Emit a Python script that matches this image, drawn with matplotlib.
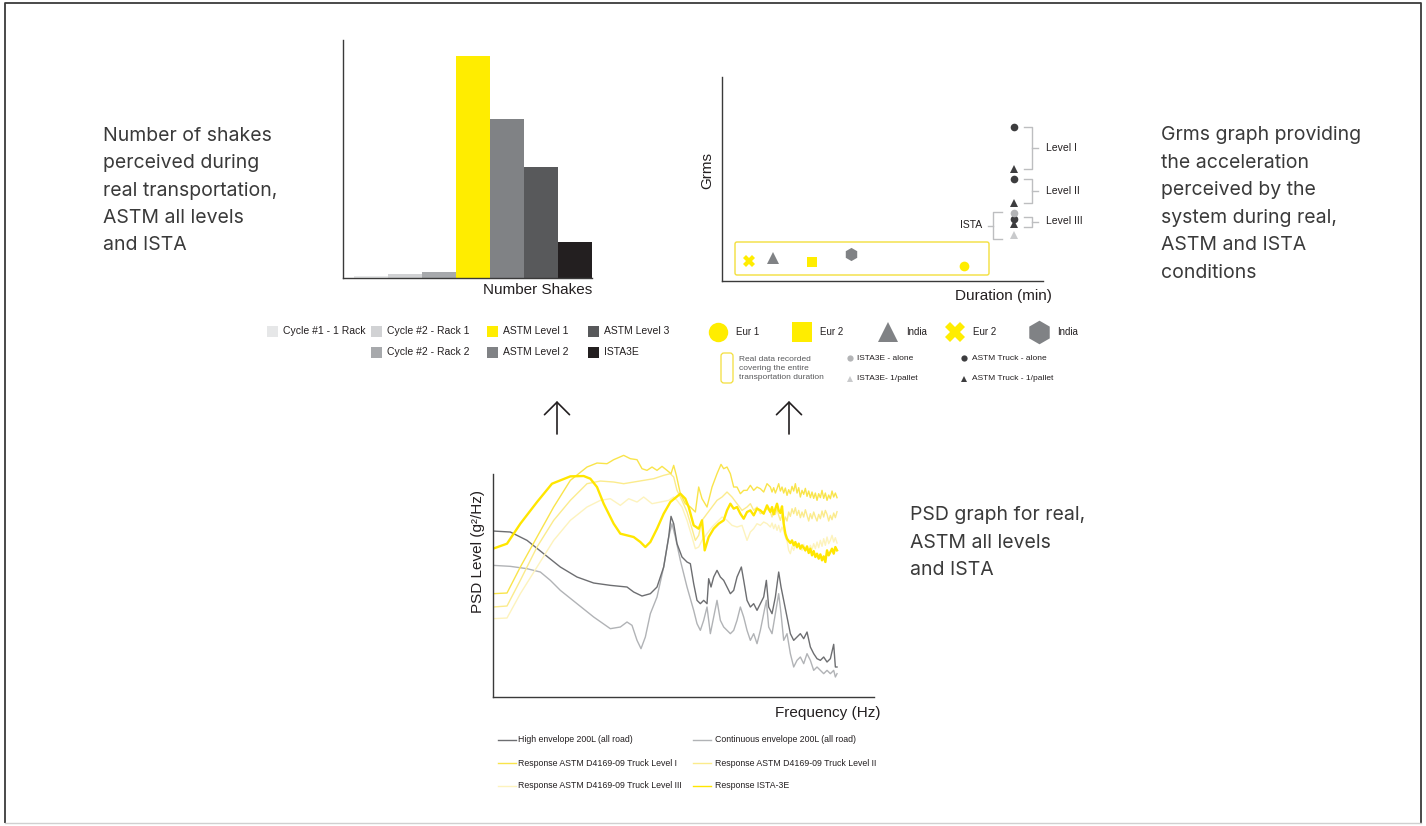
import numpy as np
import matplotlib
matplotlib.use("Agg")
import matplotlib.pyplot as plt
from matplotlib.patches import Rectangle, FancyBboxPatch

# ---------------- data ----------------
# Number of shakes per test condition (relative counts)
shake_labels = ["Cycle #1 - 1 Rack", "Cycle #2 - Rack 1", "Cycle #2 - Rack 2",
                "ASTM Level 1", "ASTM Level 2", "ASTM Level 3", "ISTA3E"]
shake_counts = [0.9, 1.8, 2.8, 100, 71.5, 50, 16]
shake_colors = ["#e6e7e8", "#d1d2d4", "#a7a9ac", "#ffed00", "#808285", "#58595b", "#231f20"]

# Grms vs duration: real transport recordings
real_labels = ["Eur 1", "Eur 2", "India", "Eur 2", "India"]
real_duration = [242, 90, 51, 27, 129]
real_grms = [15, 19, 23, 20, 27]
real_markers = ["o", "s", "^", "X", "h"]
real_colors = ["#ffed00", "#ffed00", "#808285", "#ffed00", "#808285"]

# Grms of lab test profiles (all run at the same duration)
test_duration = 292
astm_levels = ["Level I", "Level II", "Level III"]
astm_alone = [154, 102, 62]
astm_pallet = [112, 78, 57]
ista_alone = 68
ista_pallet = 46

# PSD curves (log-frequency index, PSD level in relative units)
hi_x = [0, 52, 102, 152, 202, 252, 302, 352, 402, 422, 447, 472, 492, 512, 527, 534, 542, 552, 567, 582,
        592, 602, 612, 622, 632, 642, 647, 654, 662, 672, 682, 692, 702, 712, 722, 732, 745, 752, 762, 772,
        782, 792, 802, 812, 820, 827, 837, 847, 857, 864, 872, 882, 892, 902, 912, 922, 932, 942, 952, 962,
        972, 982, 992, 1002, 1012, 1022, 1027, 1032]
hi_y = [498, 495, 470, 430, 390, 360, 342, 335, 330, 315, 303, 310, 330, 390, 480, 542, 520, 460, 420, 405,
        400, 340, 290, 280, 290, 280, 355, 330, 360, 380, 360, 350, 330, 310, 320, 360, 390, 350, 290, 270,
        280, 260, 280, 300, 350, 270, 250, 300, 375, 330, 290, 240, 190, 170, 180, 190, 175, 195, 150, 130,
        115, 110, 120, 105, 115, 158, 90, 90]

cont_x = [0, 52, 102, 142, 172, 202, 252, 302, 352, 382, 402, 417, 432, 444, 457, 472, 492, 512, 527, 537,
          547, 562, 582, 602, 612, 622, 632, 642, 652, 662, 672, 682, 692, 702, 712, 722, 732, 742, 752, 762,
          772, 782, 792, 802, 812, 820, 827, 837, 847, 857, 864, 872, 882, 892, 902, 912, 922, 932, 942, 952,
          962, 972, 982, 992, 1002, 1012, 1022, 1027, 1032]
cont_y = [395, 392, 385, 375, 350, 320, 280, 240, 205, 210, 225, 215, 170, 145, 180, 250, 300, 390, 480, 520,
          480, 410, 330, 260, 220, 200, 230, 270, 190, 240, 290, 230, 210, 200, 190, 200, 230, 270, 240, 200,
          170, 190, 160, 200, 250, 290, 210, 190, 250, 310, 250, 170, 190, 130, 90, 110, 120, 100, 130, 110,
          80, 90, 80, 70, 80, 70, 80, 60, 70]

# shared frequency grid of the noisy high-frequency tail of the response curves
tail_x = [832, 837, 842, 847, 852, 857, 862, 867, 872, 877, 882, 887, 892, 897, 902, 907, 912, 917, 922, 927,
          932, 937, 942, 947, 952, 957, 962, 967, 972, 977, 982, 987, 992, 997, 1002, 1007, 1012, 1017, 1022,
          1027, 1032]

ista_x = [0, 42, 82, 132, 177, 232, 272, 292, 312, 332, 362, 382, 402, 422, 442, 457, 472, 492, 512, 532,
          562, 577, 587, 602, 617, 627, 635, 647, 662, 677, 692, 702, 712, 722, 732, 742, 752, 762, 772, 782,
          792, 802, 812, 822] + tail_x
ista_y = [445, 460, 520, 585, 640, 662, 663, 655, 630, 580, 520, 490, 485, 480, 465, 450, 465, 505, 550, 585,
          610, 595, 570, 515, 505, 530, 440, 480, 505, 520, 530, 560, 580, 565, 570, 550, 535, 555, 560, 545,
          565, 560, 550, 575,
          555, 570, 548, 565, 580, 560, 552, 572, 520, 490, 475, 468, 462, 470, 455, 465, 450, 460, 445, 455,
          448, 440, 452, 432, 445, 425, 438, 420, 430, 415, 428, 410, 422, 405, 440, 425, 435, 445, 430, 450,
          440]

lvl1_x = [0, 42, 82, 132, 182, 232, 282, 312, 342, 362, 392, 412, 432, 447, 462, 477, 492, 507, 522, 534,
          542, 550, 562, 577, 592, 607, 617, 627, 642, 657, 672, 684, 692, 702, 712, 722, 732, 742, 752, 762,
          772, 782, 792, 802, 812, 822] + tail_x
lvl1_y = [310, 312, 390, 480, 570, 650, 690, 702, 700, 712, 725, 715, 712, 685, 680, 690, 680, 692, 680, 670,
          695, 665, 610, 580, 570, 555, 630, 595, 570, 630, 670, 698, 685, 690, 670, 630, 630, 610, 620, 620,
          635, 620, 630, 625, 615, 640,
          630, 615, 628, 612, 625, 640, 618, 630, 612, 627, 605, 622, 610, 632, 618, 640, 612, 628, 600, 620,
          608, 626, 602, 618, 598, 615, 596, 612, 590, 610, 598, 620, 596, 612, 590, 606, 595, 618, 600, 612,
          598]

lvl2_x = [0, 42, 82, 132, 182, 232, 282, 322, 362, 392, 422, 452, 482, 512, 532, 542, 552, 567, 582, 597,
          607, 617, 627, 642, 657, 672, 687, 702, 717, 732, 747, 762, 772, 782, 792, 802, 812, 822] + tail_x
lvl2_y = [270, 273, 350, 450, 530, 590, 640, 648, 645, 640, 645, 650, 655, 665, 670, 660, 620, 590, 555, 505,
          470, 485, 530, 550, 570, 590, 600, 615, 600, 580, 560, 570, 580, 560, 570, 550, 555, 565,
          555, 540, 560, 548, 565, 545, 530, 548, 522, 540, 528, 555, 542, 565, 550, 568, 545, 560, 538, 555,
          540, 562, 545, 528, 550, 535, 555, 540, 528, 548, 535, 558, 540, 560, 548, 528, 545, 532, 552, 538,
          556]

lvl3_x = [0, 42, 82, 132, 182, 232, 282, 322, 352, 382, 407, 432, 452, 477, 502, 527, 542, 552, 567, 582,
          597, 607, 617, 627, 642, 657, 672, 687, 702, 717, 732, 747, 762, 772, 782, 792, 802, 812, 822] + tail_x
lvl3_y = [235, 237, 310, 390, 470, 530, 570, 590, 595, 575, 595, 585, 600, 580, 585, 590, 600, 590, 570, 530,
          480, 445, 450, 470, 490, 510, 525, 540, 530, 515, 510, 515, 470, 495, 505, 520, 515, 525, 520,
          510, 522, 505, 518, 500, 515, 495, 510, 498, 480, 468, 440, 430, 452, 440, 458, 445, 462, 448, 440,
          458, 436, 450, 438, 455, 442, 460, 445, 465, 448, 470, 452, 475, 455, 480, 460, 470, 485, 465, 478,
          462]

psd_labels = ["High envelope 200L (all road)", "Continuous envelope 200L (all road)",
              "Response ASTM D4169-09 Truck Level I", "Response ASTM D4169-09 Truck Level II",
              "Response ASTM D4169-09 Truck Level III", "Response ISTA-3E"]
psd_colors = ["#6d6e71", "#b1b3b6", "#f9e44a", "#fbeb8c", "#fdf3bd", "#ffe600"]

# ---------------- figure ----------------
W, H, DPI = 1426, 826, 100
plt.rcParams["font.family"] = ["Liberation Sans", "DejaVu Sans"]
INK = "#231f20"
BODY = "#3a3a3a"

fig = plt.figure(figsize=(W / DPI, H / DPI), dpi=DPI)
fig.patch.set_facecolor("white")


def px_axes(left, top, right, bottom):
    return fig.add_axes([left / W, 1 - bottom / H, (right - left) / W, (bottom - top) / H])


def clean(ax):
    for s in ("top", "right"):
        ax.spines[s].set_visible(False)
    for s in ("left", "bottom"):
        ax.spines[s].set_color("#3a3a3a")
        ax.spines[s].set_linewidth(1.0)
    ax.set_xticks([])
    ax.set_yticks([])
    ax.patch.set_alpha(0)


# page layer for text blocks, legends, arrows and frame (pixel coordinates)
page = fig.add_axes([0, 0, 1, 1])
page.set_xlim(0, W)
page.set_ylim(H, 0)
page.axis("off")

# frame
page.plot([5, 5, 1421, 1421], [823, 3, 3, 823], color="#3a3a3a", lw=1.3, solid_capstyle="butt")
page.plot([5, 1421], [823, 823], color="#d0d0d0", lw=1.0)

# ---- bar chart ----
axb = px_axes(343, 40, 592, 278)
clean(axb)
xpos = np.arange(len(shake_counts))
axb.bar(xpos, shake_counts, width=1.0, color=shake_colors, linewidth=0)
axb.set_xlim(-0.824, 6.5)
axb.set_ylim(0, 107.2)
axb.set_xlabel("Number Shakes", fontsize=11, color=INK, loc="right")
axb.xaxis.set_label_coords(1.0, -0.02)

# bar legend
leg_cols = [267, 371, 487, 588]
leg_rows = [331, 352]
leg_slots = [(0, 0), (1, 0), (1, 1), (2, 0), (2, 1), (3, 0), (3, 1)]
for lab, col, (c, r) in zip(shake_labels, shake_colors, leg_slots):
    x0, yc = leg_cols[c], leg_rows[r]
    page.add_patch(Rectangle((x0, yc - 5.5), 11, 11, facecolor=col, edgecolor="none"))
    page.text(x0 + 16, yc, lab, fontsize=7.5, color=INK, va="center", ha="left")

# ---- Grms scatter ----
axs = px_axes(722, 77, 1043, 281)
clean(axs)
axs.set_xlim(0, 321)
axs.set_ylim(0, 204)
marker_size = {"o": 7, "s": 7, "^": 8, "X": 8.5, "h": 9.5}
for d, g, m, c in zip(real_duration, real_grms, real_markers, real_colors):
    axs.plot(d, g, marker=m, color=c, ms=marker_size[m], mew=0, ls="none")
axs.add_patch(FancyBboxPatch((13, 6), 254, 33, boxstyle="round,pad=0,rounding_size=2",
                             fill=False, edgecolor="#f3df3c", lw=1.0))

DARK = "#3d3d3f"
LIGHT_C = "#b3b4b6"
LIGHT_T = "#c9cacc"
axs.plot([test_duration] * 3, astm_alone, "o", color=DARK, ms=5.5, mew=0)
axs.plot([test_duration] * 3, astm_pallet, "^", color=DARK, ms=6, mew=0)
axs.plot(test_duration, ista_alone, "o", color=LIGHT_C, ms=5.5, mew=0)
axs.plot(test_duration, ista_pallet, "^", color=LIGHT_T, ms=6, mew=0)

BR = "#bdbec0"
for name, hi, lo in zip(astm_levels, astm_alone, astm_pallet):
    pad = 0 if hi - lo > 15 else 2.5
    top, bot = hi + pad, lo - pad
    axs.plot([302, 310, 310, 302], [top, top, bot, bot], color=BR, lw=1.0)
    mid = (top + bot) / 2
    axs.plot([310, 316], [mid, mid], color=BR, lw=1.0)
    axs.text(324, mid, name, fontsize=7.5, color=INK, va="center", ha="left")
i_top, i_bot = ista_alone + 1, ista_pallet - 4
axs.plot([280, 271, 271, 280], [i_top, i_top, i_bot, i_bot], color=BR, lw=1.0)
i_mid = (i_top + i_bot) / 2
axs.plot([271, 266], [i_mid, i_mid], color=BR, lw=1.0)
axs.text(260, i_mid, "ISTA", fontsize=7.5, color=INK, va="center", ha="right")

axs.set_ylabel("Grms", fontsize=11, color=INK)
axs.yaxis.set_label_coords(-0.025, 0.544)
axs.set_xlabel("Duration (min)", fontsize=11, color=INK, loc="right")
axs.xaxis.set_label_coords(1.028, -0.039)

# scatter legend, first row
legend_x = [718, 802, 888, 955, 1039]
legend_ms = {"o": 14, "s": 14, "^": 15, "X": 15, "h": 17}
for lx, lab, m, c in zip(legend_x, real_labels, real_markers, real_colors):
    page.plot(lx, 332, marker=m, color=c, ms=legend_ms[m], mew=0, ls="none")
    page.text(lx + 18, 332, lab, fontsize=7, color=INK, va="center", ha="left")

# scatter legend, second row
page.add_patch(FancyBboxPatch((721, 353), 12, 30, boxstyle="round,pad=0,rounding_size=3",
                              fill=False, edgecolor="#f3df3c", lw=0.9))
page.text(739, 368.5, "Real data recorded\ncovering the entire\ntransportation duration",
          fontsize=6, color="#58595b", va="center", ha="left", linespacing=1.45)
page.plot(850, 358, "o", color=LIGHT_C, ms=4.5, mew=0)
page.text(857, 358, "ISTA3E - alone", fontsize=6, color=INK, va="center", ha="left")
page.plot(850, 379, "^", color=LIGHT_T, ms=5, mew=0)
page.text(857, 379, "ISTA3E- 1/pallet", fontsize=6, color=INK, va="center", ha="left")
page.plot(964, 358, "o", color=DARK, ms=4.5, mew=0)
page.text(972, 358, "ASTM Truck - alone", fontsize=6, color=INK, va="center", ha="left")
page.plot(964, 379, "^", color=DARK, ms=5, mew=0)
page.text(972, 379, "ASTM Truck - 1/pallet", fontsize=6, color=INK, va="center", ha="left")

# arrows pointing up from the PSD graph
for ax_x in (557, 789):
    page.annotate("", xy=(ax_x, 401), xytext=(ax_x, 434),
                  arrowprops=dict(arrowstyle="->,head_length=0.9,head_width=0.9", lw=1.2,
                                  color=INK, shrinkA=0, shrinkB=0, mutation_scale=10))

# ---- PSD graph ----
axp = px_axes(493, 443.7, 873.7, 697)
clean(axp)
axp.set_xlim(0, 1142)
axp.set_ylim(0, 760)
axp.spines["left"].set_bounds(0, 670)
curves = [(cont_x, cont_y, psd_colors[1], 1.0),
          (hi_x, hi_y, psd_colors[0], 1.0),
          (lvl3_x, lvl3_y, psd_colors[4], 1.0),
          (lvl2_x, lvl2_y, psd_colors[3], 1.0),
          (lvl1_x, lvl1_y, psd_colors[2], 1.0),
          (ista_x, ista_y, psd_colors[5], 1.7)]
for cx, cy, col, lw in curves:
    axp.plot(cx, cy, color=col, lw=lw, solid_joinstyle="round")
axp.set_ylabel("PSD Level (g²/Hz)", fontsize=11, color=INK)
axp.yaxis.set_label_coords(-0.021, 0.576)
axp.set_xlabel("Frequency (Hz)", fontsize=11, color=INK, loc="right")
axp.xaxis.set_label_coords(1.017, -0.036)

# PSD legend
psd_cols = [(498, 518), (693, 715)]
psd_rows = [740, 763, 786]
for i, (lab, col) in enumerate(zip(psd_labels, psd_colors)):
    (l0, tx), yc = psd_cols[i % 2], psd_rows[i // 2]
    page.plot([l0, l0 + 18], [yc, yc], color=col, lw=1.0)
    page.text(tx, yc, lab, fontsize=6.3, color=INK, va="center", ha="left")

# ---- descriptive text blocks ----
blocks = [
    (103, 136, 27.3, ["Number of shakes", "perceived during", "real transportation,",
                      "ASTM all levels", "and ISTA"]),
    (1161, 135, 27.6, ["Grms graph providing", "the acceleration", "perceived by the",
                       "system during real,", "ASTM and ISTA", "conditions"]),
    (910, 515, 27.5, ["PSD graph for real,", "ASTM all levels", "and ISTA"]),
]
for bx, by, step, lines in blocks:
    for k, line in enumerate(lines):
        page.text(bx, by + k * step, line, fontsize=14, color=BODY, family=["Inter", "DejaVu Sans"],
                  va="center", ha="left")

fig.savefig("out.png", dpi=DPI)
